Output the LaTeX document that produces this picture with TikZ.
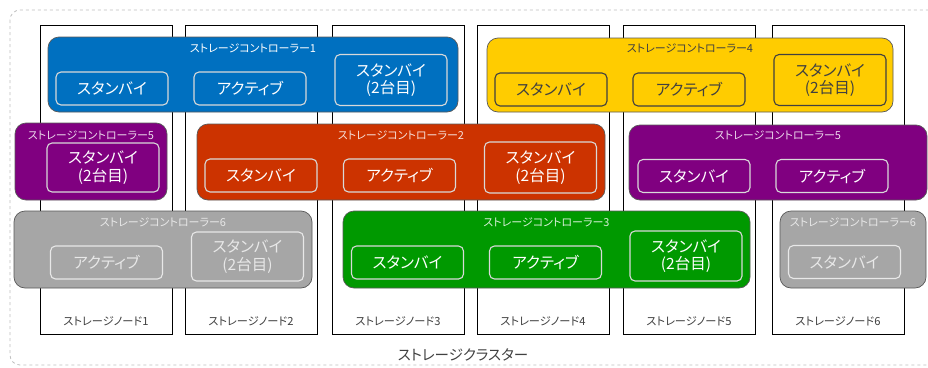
\documentclass[tikz,border=0pt]{standalone}
\usepackage{fontspec}
\setmainfont{Noto Sans CJK JP}[RawFeature=+palt]
\definecolor{cblue}{HTML}{0070C0}
\definecolor{cyellow}{HTML}{FFCC00}
\definecolor{cred}{HTML}{CC3300}
\definecolor{cpurple}{HTML}{800080}
\definecolor{cgreen}{HTML}{009900}
\definecolor{cgray}{HTML}{A6A6A6}
\definecolor{ctext}{HTML}{404040}
\definecolor{cgraytext}{HTML}{E8E8E8}
\tikzset{
  snode/.style={draw=black, line width=1pt, fill=white, minimum width=132pt, minimum height=309pt, inner sep=0pt},
  nlabel/.style={font=\fontsize{11.2}{13}\selectfont, text=ctext, inner sep=0pt},
  ctrl/.style={draw=black!65, line width=0.7pt, rounded corners=11pt, inner sep=0pt},
  clabel/.style={font=\fontsize{11}{13}\selectfont, inner sep=0pt},
  rolebox/.style={line width=1.1pt, rounded corners=5pt, inner sep=0pt, minimum width=112pt, minimum height=33pt, font=\fontsize{15.5}{17.5}\selectfont, align=center},
  role2/.style={rolebox, minimum height=51pt},
  wrole/.style={draw=white!85!black, text=white},
  yrole/.style={draw=ctext, text=ctext},
  grole/.style={draw=cgraytext, text=cgraytext},
}
\begin{document}
\begin{tikzpicture}[x=1pt,y=-1pt]
\useasboundingbox (0,0) rectangle (928,367);
% cluster
\draw[draw=black!25, dashed, line width=0.8pt, rounded corners=10pt] (10,10) rectangle (945,365);
\node[font=\fontsize{14.5}{16}\selectfont, text=ctext, inner sep=0pt] (cl) at (463,355) {ストレージクラスター};
% storage nodes
\foreach \i/\x in {1/106,2/251,3/398,4/543,5/689,6/838}{
  \node[snode] (n\i) at (\x,179.5) {};
  \node[nlabel] (n\i l) at (\x,321) {ストレージノード\i};
}
% controller 1
\node[ctrl, fill=cblue, minimum width=410pt, minimum height=75pt] (c1) at (253,74.5) {};
\node[clabel, text=white] (c1l) at (253,48) {ストレージコントローラー1};
\node[rolebox, wrole] (c1a) at (112,88.5) {スタンバイ};
\node[rolebox, wrole] (c1b) at (250,88.5) {アクティブ};
\node[role2, wrole] (c1c) at (391,80) {スタンバイ\\(2台目)};
% controller 4
\node[ctrl, fill=cyellow, minimum width=406pt, minimum height=74pt] (c4) at (690,75) {};
\node[clabel, text=ctext] (c4l) at (690,48) {ストレージコントローラー4};
\node[rolebox, yrole] (c4a) at (551,89.5) {スタンバイ};
\node[rolebox, yrole] (c4b) at (689,89.5) {アクティブ};
\node[role2, yrole] (c4c) at (830,80) {スタンバイ\\(2台目)};
% controller 5 (left)
\node[ctrl, fill=cpurple, minimum width=152pt, minimum height=77pt] (c5L) at (91,161.5) {};
\node[clabel, text=white!85!cpurple] (c5Ll) at (91,135) {ストレージコントローラー5};
\node[role2, wrole, minimum height=49pt] (c5Lc) at (103,167.5) {スタンバイ\\(2台目)};
% controller 2
\node[ctrl, fill=cred, minimum width=408pt, minimum height=76pt] (c2) at (401,162) {};
\node[clabel, text=white!85!cred] (c2l) at (401,135) {ストレージコントローラー2};
\node[rolebox, wrole] (c2a) at (261,175.5) {スタンバイ};
\node[rolebox, wrole] (c2b) at (399.5,175.5) {アクティブ};
\node[role2, wrole] (c2c) at (540.5,167.5) {スタンバイ\\(2台目)};
% controller 5 (right)
\node[ctrl, fill=cpurple, minimum width=298pt, minimum height=75pt] (c5R) at (778,162.5) {};
\node[clabel, text=white!85!cpurple] (c5Rl) at (778,135) {ストレージコントローラー5};
\node[rolebox, wrole] (c5Ra) at (694,176) {スタンバイ};
\node[rolebox, wrole] (c5Rb) at (832,176) {アクティブ};
% controller 6 (left)
\node[ctrl, fill=cgray, minimum width=298pt, minimum height=77pt] (c6L) at (163,249.5) {};
\node[clabel, text=cgraytext] (c6Ll) at (163,222) {ストレージコントローラー6};
\node[rolebox, grole] (c6Lb) at (106.5,262.5) {アクティブ};
\node[role2, grole, minimum height=49pt] (c6Lc) at (247.5,256.5) {スタンバイ\\(2台目)};
% controller 3
\node[ctrl, fill=cgreen, minimum width=407pt, minimum height=77pt] (c3) at (546.5,249.5) {};
\node[clabel, text=white!85!cgreen] (c3l) at (546.5,222) {ストレージコントローラー3};
\node[rolebox, wrole] (c3a) at (407.5,262.5) {スタンバイ};
\node[rolebox, wrole] (c3b) at (545.5,262.5) {アクティブ};
\node[role2, wrole, minimum height=50pt] (c3c) at (686,256) {スタンバイ\\(2台目)};
% controller 6 (right)
\node[ctrl, fill=cgray, minimum width=146pt, minimum height=77pt] (c6R) at (853,249.5) {};
\node[clabel, text=cgraytext] (c6Rl) at (853,222) {ストレージコントローラー6};
\node[rolebox, grole] (c6Ra) at (844.5,262) {スタンバイ};
\end{tikzpicture}
\end{document}
